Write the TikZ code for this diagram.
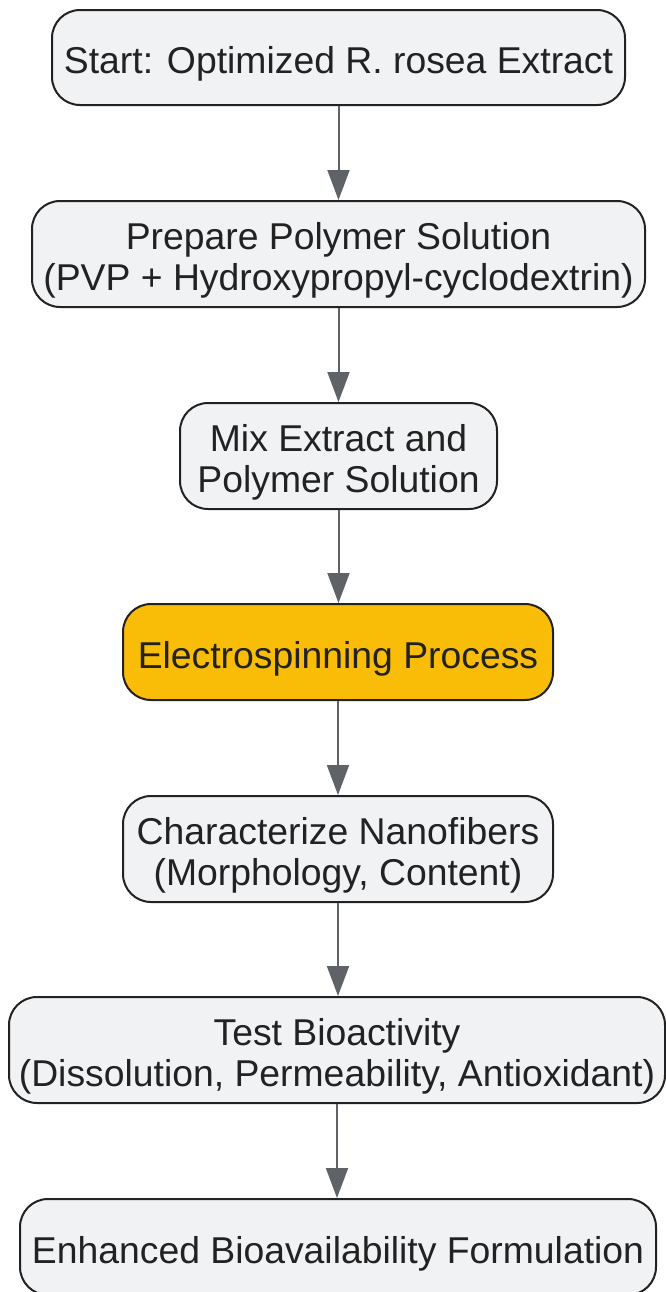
\documentclass[tikz,border=0pt]{standalone}
\usepackage{fontspec}
\setmainfont{Liberation Sans}
\usetikzlibrary{arrows.meta}
\definecolor{boxfill}{HTML}{F1F2F4}
\definecolor{boxline}{HTML}{222222}
\definecolor{arrcol}{HTML}{5F6368}
\definecolor{hilite}{HTML}{F9BC07}
\definecolor{txt}{HTML}{222222}
\newcommand\lowtext[1]{\raisebox{-6pt}[\height][\depth]{\begin{tabular}{@{}c@{}}#1\end{tabular}}}
\tikzset{
  stepbox/.style={draw=boxline, line width=1.5pt, fill=boxfill, rounded corners=21pt,
    align=center, inner sep=0pt, text=txt,
    font=\fontsize{28}{30.75}\selectfont},
  hot/.style={stepbox, fill=hilite},
  arr/.style={draw=arrcol, line width=1.5pt, -{Triangle[length=22.5pt,width=16.5pt]}}
}
\begin{document}
\begin{tikzpicture}[x=0.75pt,y=-0.75pt]
\useasboundingbox (0,0) rectangle (665,1292);
\node[stepbox, minimum width=429.75pt, minimum height=71.25pt] (start) at (338.5,57.5) {\lowtext{Start: Optimized R. rosea Extract}};
\node[stepbox, minimum width=459.75pt, minimum height=79.5pt] (prep) at (338.5,254) {\lowtext{Prepare Polymer Solution\\(PVP + Hydroxypropyl-cyclodextrin)}};
\node[stepbox, minimum width=237.75pt, minimum height=79.5pt] (mix) at (338.5,456) {\lowtext{Mix Extract and\\Polymer Solution}};
\node[hot, minimum width=322.5pt, minimum height=72pt] (elec) at (338,652) {\lowtext{Electrospinning Process}};
\node[stepbox, minimum width=322.5pt, minimum height=79.5pt] (char) at (338,849) {\lowtext{Characterize Nanofibers\\(Morphology, Content)}};
\node[stepbox, minimum width=492pt, minimum height=79.5pt] (test) at (337,1050) {\lowtext{Test Bioactivity\\(Dissolution, Permeability, Antioxidant)}};
\node[stepbox, minimum width=477pt, minimum height=72pt] (enh) at (338,1247) {\lowtext{Enhanced Bioavailability Formulation}};
\draw[arr] (start.south) -- (start.south |- prep.north);
\draw[arr] (prep.south) -- (prep.south |- mix.north);
\draw[arr] (mix.south) -- (mix.south |- elec.north);
\draw[arr] (elec.south) -- (elec.south |- char.north);
\draw[arr] (char.south) -- (char.south |- test.north);
\draw[arr] (test.south) -- (test.south |- enh.north);
\end{tikzpicture}
\end{document}
